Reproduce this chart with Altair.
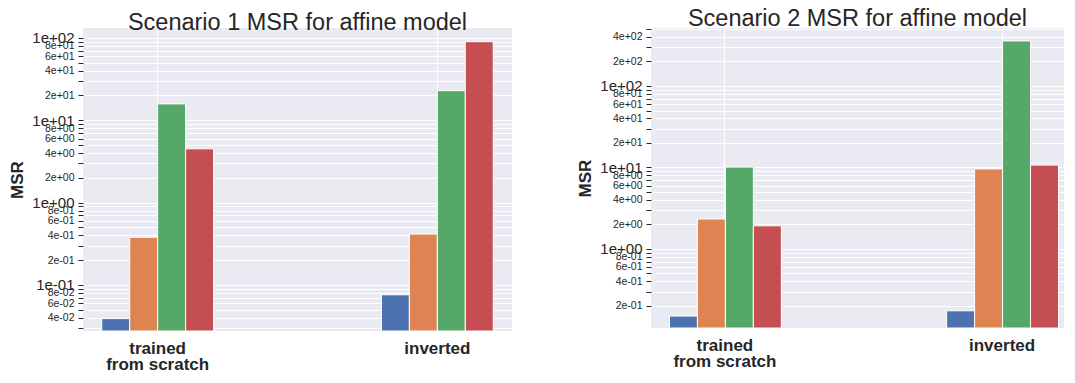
import altair as alt
import pandas as pd

groups = ["trained from scratch", "inverted"]
series = ["series 1", "series 2", "series 3", "series 4"]
colors = ["#4C72B0", "#DD8452", "#55A868", "#C44E52"]

# Scenario 1 (MSR values per series)
s1_trained = [0.039, 0.38, 15.8, 4.5]
s1_inverted = [0.076, 0.415, 22.9, 90.0]
# Scenario 2
s2_trained = [0.15, 2.33, 10.1, 1.92]
s2_inverted = [0.174, 9.6, 357.0, 10.7]

s1_domain = [0.0276, 132.0]
s2_domain = [0.107, 515.0]


def log_ticks(lo_exp, hi_exp, lo, hi):
    out = []
    for e in range(lo_exp, hi_exp + 1):
        for m in range(1, 10):
            v = float(f"{m}e{e}")
            if lo <= v <= hi:
                out.append(v)
    return out


FONT = "Liberation Sans"
TXT = "#262626"

E = "floor(log(datum.value)/LN10 + 1e-6)"
M = f"round(datum.value/pow(10, {E}))"
label_expr = (
    f"({M} == 1 || {M} == 2 || {M} == 4 || {M} == 6 || {M} == 8) ? "
    f"({M} + 'e' + ({E} < 0 ? '-' : '+') + (abs({E}) < 10 ? '0' : '') + abs({E})) : ''"
)
major_test = "abs(log(datum.value)/LN10 - round(log(datum.value)/LN10)) < 1e-6"


def panel(trained, inverted, title, domain, ticks, width, height, pad_outer, align):
    df = pd.DataFrame({
        "group": [groups[0]] * 4 + [groups[1]] * 4,
        "series": series + series,
        "msr": trained + inverted,
    })
    return alt.Chart(df).mark_bar(stroke="white", strokeWidth=1).encode(
        x=alt.X("group:N", sort=groups,
                scale=alt.Scale(paddingInner=0.6, paddingOuter=pad_outer, align=align),
                axis=alt.Axis(title=None, labelAngle=0, ticks=False, domain=False,
                              grid=True, gridColor="white", gridWidth=1, bandPosition=0.5,
                              labelExpr="datum.value == 'trained from scratch' ? ['trained', 'from scratch'] : datum.value",
                              labelFont=FONT, labelFontSize=17, labelFontWeight="bold",
                              labelColor=TXT, labelPadding=9, labelLineHeight=16)),
        xOffset=alt.XOffset("series:N", sort=series),
        y=alt.Y("msr:Q",
                scale=alt.Scale(type="log", domain=domain, nice=False),
                axis=alt.Axis(values=ticks, labelExpr=label_expr,
                              labelFontSize={"condition": {"test": major_test, "value": 15}, "value": 10.5},
                              labelFont=FONT, labelColor=TXT, labelOverlap=False,
                              labelPadding=4, tickSize=5, tickColor=TXT, domain=False,
                              grid=True, gridColor="white", gridWidth=1,
                              title="MSR", titleFont=FONT, titleFontSize=17,
                              titleFontWeight="bold", titleColor=TXT, titlePadding=5)),
        y2=alt.datum(domain[0]),
        color=alt.Color("series:N", scale=alt.Scale(domain=series, range=colors), legend=None),
    ).properties(
        width=width, height=height,
        title=alt.TitleParams(title, font=FONT, fontSize=23.5, fontWeight="normal",
                              color=TXT, anchor="middle", offset=-6),
    )


left = panel(s1_trained, s1_inverted, "Scenario 1 MSR for affine model", s1_domain,
             log_ticks(-2, 2, s1_domain[0], s1_domain[1]), 429, 303, 0.067, 0.5)
right = panel(s2_trained, s2_inverted, "Scenario 2 MSR for affine model", s2_domain,
              log_ticks(-1, 2, s2_domain[0], s2_domain[1]), 413, 300, 0.045, 0.74)

chart = alt.hconcat(left, right, spacing=64).configure_view(
    fill="#EAEAF2", stroke=None
).properties(padding={"left": 0, "top": -2, "right": 0, "bottom": 0}, background="white")

chart.save("out.html", embed_options={"renderer": "svg", "actions": False})
